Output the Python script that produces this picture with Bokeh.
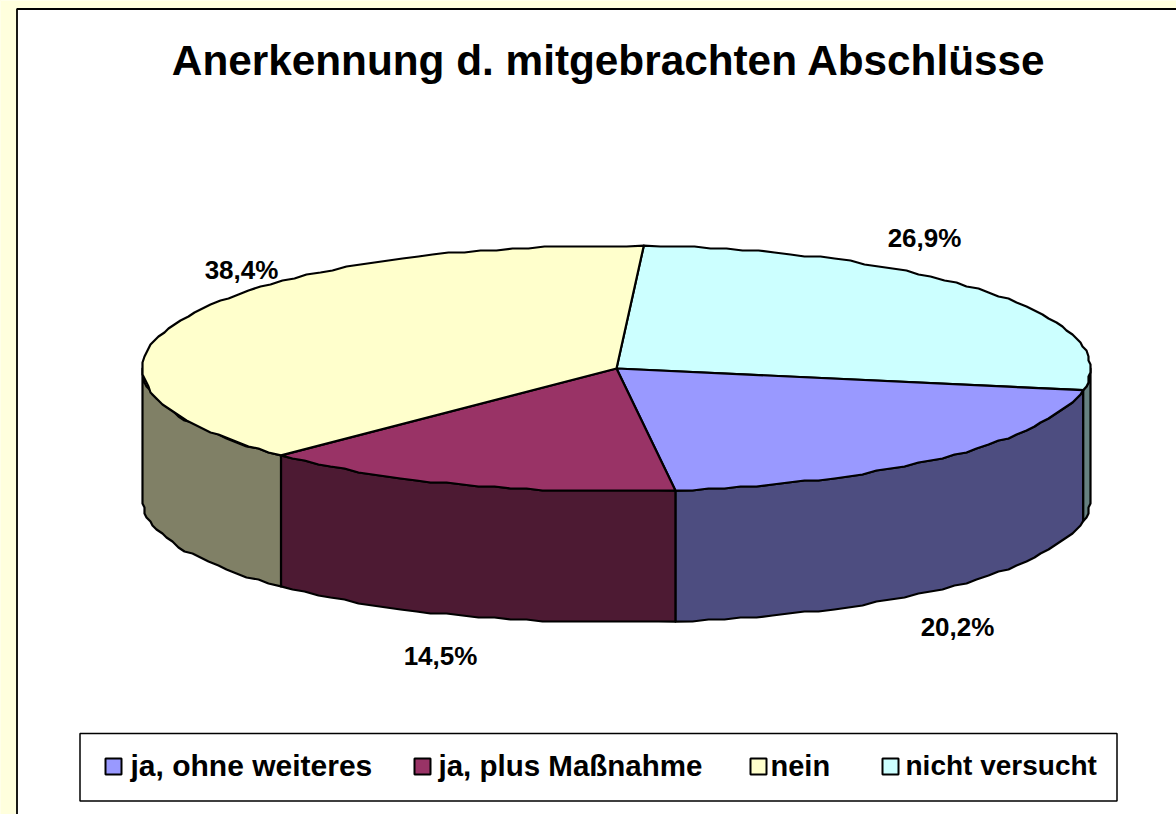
import math
from bokeh.plotting import figure
from bokeh.models import Range1d
from bokeh.embed import file_html
from bokeh.resources import INLINE
from bokeh.core.properties import value

TITLE = "Anerkennung d. mitgebrachten Abschlüsse"
categories = ["nicht versucht", "ja, ohne weiteres", "ja, plus Maßnahme", "nein"]
shares = [26.9, 20.2, 14.5, 38.4]
share_labels = ["26,9%", "20,2%", "14,5%", "38,4%"]
top_colors = ["#CCFFFF", "#9999FF", "#993366", "#FFFFCC"]
side_colors = ["#668080", "#4D4D80", "#4D1A33", "#808066"]
legend_order = ["ja, ohne weiteres", "ja, plus Maßnahme", "nein", "nicht versucht"]
legend_marker_x = [113, 422, 758, 890]
legend_text_x = [130, 438, 770, 905]
legend_sizes = ["30px", "29.5px", "29px", "28px"]
label_pos = [(924, 237), (957, 626), (440, 655), (241, 269)]

PAGE = "#FFFFDD"
W, H = 1176, 814
CX, CY, A, B, DEPTH = 616, 368, 474, 123, 131
START = 3.3
GRID = 2

FONT = value("Liberation Sans")


def pt(deg):
    r = math.radians(deg)
    return CX + A * math.sin(r), CY - B * math.cos(r)


def arc(a0, a1):
    n = max(2, int(abs(a1 - a0) / 2) + 1)
    pts = []
    for i in range(n):
        x, y = pt(a0 + (a1 - a0) * i / (n - 1))
        if 0 < i < n - 1:
            x, y = GRID * round(x / GRID), GRID * round(y / GRID)
        pts.append((x, y))
    return pts


p = figure(width=W, height=H, output_backend="svg", toolbar_location=None,
           x_range=Range1d(0, W), y_range=Range1d(H, 0),
           min_border=0, outline_line_color=None, background_fill_color="white",
           border_fill_color=PAGE)
p.axis.visible = False
p.grid.visible = False

# page stripe + white panel
p.quad(left=[0], right=[W], top=[0], bottom=[H], fill_color=PAGE, line_color=None)
p.quad(left=[16.5], right=[W + 5], top=[8.5], bottom=[H + 5],
       fill_color="white", line_color="black", line_width=1.8)

# wedges
angles = []
a = START
for s in shares:
    angles.append((a, a + s * 3.6))
    a += s * 3.6

# walls
for (a0, a1), col in zip(angles, side_colors):
    lo, hi = max(a0, 90), min(a1, 270)
    if hi <= lo:
        continue
    rim = arc(lo, hi)
    xs = [x for x, y in rim] + [x for x, y in reversed(rim)]
    ys = [y for x, y in rim] + [y + DEPTH for x, y in reversed(rim)]
    p.patch(xs, ys, fill_color=col, line_color="black", line_width=2.2, line_join="round")

# top faces
for (a0, a1), col in zip(angles, top_colors):
    rim = arc(a0, a1)
    xs = [CX] + [x for x, y in rim]
    ys = [CY] + [y for x, y in rim]
    p.patch(xs, ys, fill_color=col, line_color="black", line_width=2.2, line_join="round")

# title and data labels
p.text([608.5], [60], text=[TITLE], text_font=FONT, text_font_style="bold",
       text_font_size="42.3px", text_align="center", text_baseline="middle", text_color="black")
p.text([x for x, y in label_pos], [y for x, y in label_pos], text=share_labels,
       text_font=FONT, text_font_style="bold", text_font_size="26px",
       text_align="center", text_baseline="middle", text_color="black")

# legend
p.quad(left=[79.5], right=[1116.5], top=[733], bottom=[800.5],
       fill_color="white", line_color="black", line_width=1.5)
color_of = dict(zip(categories, top_colors))
for name, mx, tx, fs in zip(legend_order, legend_marker_x, legend_text_x, legend_sizes):
    p.quad(left=[mx - 8], right=[mx + 8], top=[758], bottom=[774],
           fill_color=color_of[name], line_color="black", line_width=2)
    p.text([tx], [765], text=[name], text_font=FONT, text_font_style="bold",
           text_font_size=fs, text_align="left", text_baseline="middle", text_color="black")

html = file_html(p, INLINE)
style = "<style>html,body{overflow:hidden;background:#FFFFDD}</style>"
html = html.replace("</head>", style + "</head>", 1)
open("out.html", "w").write(html)
